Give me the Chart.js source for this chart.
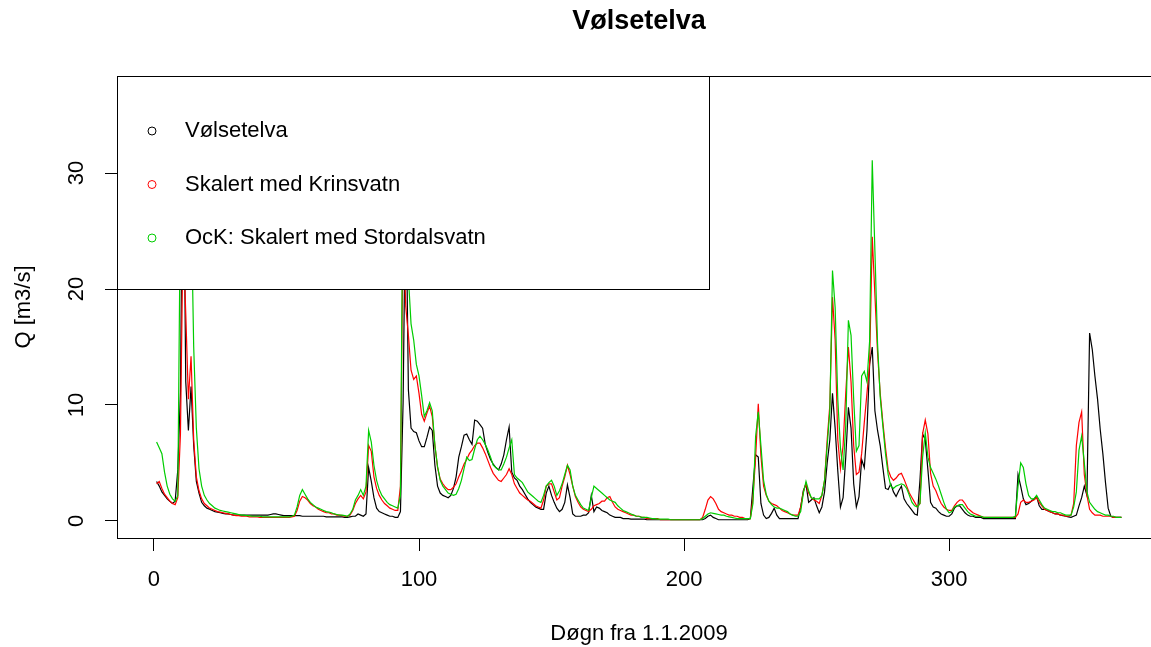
<!DOCTYPE html>
<html>
<head>
<meta charset="utf-8">
<title>Vølsetelva</title>
<script src="https://cdn.jsdelivr.net/npm/chart.js@4.4.1/dist/chart.umd.min.js"></script>
<style>
  html, body { margin: 0; padding: 0; background: #fff; overflow: hidden; }
  #wrap { width: 1278px; height: 647px; }
</style>
</head>
<body>
<div id="wrap"><canvas id="chart" width="1278" height="647"></canvas></div>
<script>
const FONT = '"Liberation Sans", Arial, sans-serif';

// day number from 1.1.2009
const days = Array.from({ length: 365 }, (_, i) => i + 1);

// daily discharge, m3/s
const qObserved = [
  3.4, 3.0, 2.5, 2.2, 1.9, 1.7, 1.5, 1.7, 4.4, 11.1,
  36.9, 12.0, 7.8, 11.6, 6.5, 3.4, 2.4, 1.6, 1.3, 1.1,
  1.0, 0.9, 0.8, 0.75, 0.7, 0.65, 0.6, 0.6, 0.55, 0.5,
  0.5, 0.5, 0.5, 0.5, 0.5, 0.5, 0.5, 0.5, 0.5, 0.5,
  0.5, 0.5, 0.5, 0.55, 0.6, 0.6, 0.55, 0.5, 0.45, 0.45,
  0.45, 0.45, 0.45, 0.45, 0.45, 0.4, 0.4, 0.4, 0.4, 0.4,
  0.4, 0.4, 0.4, 0.4, 0.35, 0.35, 0.35, 0.35, 0.35, 0.35,
  0.35, 0.3, 0.3, 0.35, 0.4, 0.4, 0.6, 0.5, 0.4, 0.6,
  4.6, 3.4, 2.0, 1.1, 0.8, 0.7, 0.6, 0.5, 0.4, 0.4,
  0.3, 0.3, 0.8, 10.2, 30.0, 11.3, 8.0, 7.7, 7.6, 6.9,
  6.4, 6.4, 7.2, 8.1, 7.8, 4.8, 3.0, 2.4, 2.2, 2.1,
  2.0, 2.2, 2.8, 3.8, 5.5, 6.4, 7.4, 7.5, 7.0, 6.6,
  8.7, 8.6, 8.3, 8.0, 6.6, 5.9, 5.3, 4.9, 4.6, 4.4,
  4.9, 5.7, 7.0, 8.1, 4.2, 3.7, 3.5, 3.0, 2.7, 2.3,
  1.9, 1.6, 1.4, 1.2, 1.1, 1.0, 1.0, 2.4, 3.0, 2.2,
  1.6, 1.1, 0.8, 1.0, 1.6, 3.1, 2.0, 0.6, 0.4, 0.4,
  0.4, 0.5, 0.5, 0.7, 2.2, 0.8, 1.2, 1.1, 0.9, 0.8,
  0.7, 0.5, 0.4, 0.3, 0.3, 0.3, 0.2, 0.2, 0.2, 0.15,
  0.15, 0.15, 0.15, 0.15, 0.15, 0.1, 0.1, 0.1, 0.1, 0.1,
  0.1, 0.1, 0.1, 0.1, 0.1, 0.1, 0.1, 0.1, 0.1, 0.1,
  0.1, 0.1, 0.1, 0.1, 0.1, 0.1, 0.1, 0.2, 0.4, 0.5,
  0.3, 0.2, 0.1, 0.1, 0.1, 0.1, 0.1, 0.1, 0.1, 0.1,
  0.1, 0.1, 0.1, 0.1, 0.2, 3.0, 5.7, 5.5, 1.5, 0.5,
  0.2, 0.3, 0.65, 1.1, 0.5, 0.2, 0.2, 0.2, 0.2, 0.2,
  0.2, 0.2, 0.2, 1.2, 2.6, 3.2, 1.6, 1.8, 2.0, 1.3,
  0.7, 1.2, 2.5, 5.0, 7.0, 11.0, 8.0, 4.3, 1.2, 2.0,
  5.5, 9.8, 8.0, 3.2, 1.2, 2.1, 5.3, 4.6, 7.8, 13.5,
  15.0, 9.5, 7.8, 6.5, 4.6, 2.8, 2.7, 3.2, 2.5, 2.1,
  2.6, 3.0, 1.9, 1.5, 1.2, 0.9, 0.6, 0.5, 3.5, 7.5,
  7.0, 4.4, 1.6, 1.2, 1.1, 0.8, 0.6, 0.5, 0.4, 0.4,
  0.6, 1.1, 1.3, 1.3, 1.0, 0.7, 0.5, 0.4, 0.4, 0.3,
  0.3, 0.3, 0.2, 0.2, 0.2, 0.2, 0.2, 0.2, 0.2, 0.2,
  0.2, 0.2, 0.2, 0.2, 0.2, 4.0, 3.0, 1.9, 1.4, 1.5,
  1.7, 1.9, 2.1, 1.3, 1.0, 1.0, 0.9, 0.8, 0.7, 0.6,
  0.6, 0.5, 0.45, 0.4, 0.35, 0.3, 0.4, 0.5, 1.3, 2.0,
  3.0, 2.2, 16.2, 14.8, 12.5, 10.5, 7.9, 5.8, 3.3, 1.1,
  0.4, 0.3, 0.3, 0.3, 0.3
];

const qKrinsvatn = [
  3.2, 3.4, 2.8, 2.3, 2.0, 1.7, 1.5, 1.4, 2.0, 7.5,
  25.0, 17.9, 10.5, 14.2, 7.0, 3.8, 2.6, 1.9, 1.5, 1.3,
  1.1, 1.0, 0.9, 0.8, 0.75, 0.7, 0.65, 0.6, 0.55, 0.5,
  0.45, 0.45, 0.4, 0.4, 0.4, 0.35, 0.35, 0.35, 0.35, 0.3,
  0.3, 0.3, 0.3, 0.3, 0.3, 0.3, 0.3, 0.3, 0.3, 0.3,
  0.3, 0.35, 0.4, 0.9, 1.7, 2.1, 2.0, 1.8, 1.5, 1.3,
  1.2, 1.0, 0.9, 0.8, 0.7, 0.7, 0.6, 0.6, 0.5, 0.5,
  0.45, 0.4, 0.4, 0.5, 0.9, 1.5, 1.9, 2.2, 1.9, 2.5,
  6.5, 6.0, 3.8, 2.8, 2.2, 1.8, 1.5, 1.3, 1.1, 1.0,
  0.9, 0.9, 3.0, 26.0, 18.5, 16.0, 13.0, 12.2, 12.5, 11.0,
  9.2, 8.6, 9.3, 9.9, 9.0, 6.5, 4.6, 3.6, 3.2, 2.9,
  2.7, 2.7, 2.9, 3.2, 3.8, 4.3, 4.9, 5.3, 5.8, 6.1,
  6.5, 6.7, 6.7, 6.3, 5.8, 5.2, 4.6, 4.1, 3.8, 3.5,
  3.4, 3.7, 4.0, 4.5, 4.0, 3.2, 2.8, 2.4, 2.2, 2.0,
  1.8, 1.7, 1.5, 1.3, 1.2, 1.1, 1.8, 3.0, 3.2, 3.2,
  2.5, 1.8, 2.0, 3.0, 3.8, 4.8, 4.0, 3.0, 2.1, 1.6,
  1.2, 1.0, 0.9, 0.8, 1.0, 1.3, 1.4, 1.5, 1.7, 1.7,
  2.0, 2.1, 1.6, 1.2, 1.0, 0.9, 0.8, 0.7, 0.6, 0.5,
  0.5, 0.4, 0.4, 0.3, 0.3, 0.2, 0.2, 0.2, 0.2, 0.2,
  0.1, 0.1, 0.1, 0.1, 0.1, 0.1, 0.1, 0.1, 0.1, 0.1,
  0.1, 0.1, 0.1, 0.1, 0.1, 0.1, 0.3, 1.0, 1.8, 2.1,
  1.9, 1.5, 1.0, 0.8, 0.7, 0.6, 0.5, 0.5, 0.4, 0.4,
  0.3, 0.3, 0.2, 0.2, 0.2, 2.0, 5.5, 10.1, 5.6, 3.0,
  2.2, 1.7, 1.5, 1.4, 1.3, 1.1, 0.9, 0.8, 0.7, 0.6,
  0.5, 0.5, 0.5, 1.2, 2.5, 3.2, 2.4, 2.0, 1.8, 1.7,
  1.5, 2.2, 3.5, 7.0, 10.0, 19.3, 15.6, 7.0, 4.5, 6.5,
  11.0, 15.0, 12.0, 6.5, 4.0, 4.2, 5.8, 8.5, 11.0, 13.5,
  24.5, 19.5, 14.5, 11.0, 8.5, 6.3, 4.4, 3.8, 3.5, 3.7,
  4.0, 4.1, 3.6, 3.0, 2.4, 2.0, 1.6, 1.2, 1.5, 7.5,
  8.7, 7.5, 4.1, 3.0, 2.6, 2.0, 1.5, 1.2, 1.0, 0.9,
  0.9, 1.3, 1.6, 1.8, 1.8, 1.5, 1.1, 0.9, 0.7, 0.6,
  0.5, 0.4, 0.3, 0.3, 0.3, 0.3, 0.3, 0.3, 0.3, 0.3,
  0.3, 0.3, 0.3, 0.3, 0.3, 0.6, 1.6, 1.8, 1.6, 1.6,
  1.7, 1.8, 2.0, 1.6, 1.3, 1.0, 0.9, 0.8, 0.7, 0.6,
  0.6, 0.5, 0.5, 0.4, 0.4, 0.5, 1.5, 6.5, 8.5, 9.4,
  4.0, 2.2, 1.0, 0.7, 0.5, 0.5, 0.5, 0.4, 0.4, 0.4,
  0.4, 0.3, 0.3, 0.3, 0.3
];

const qStordalsvatn = [
  6.8, 6.3, 5.8, 4.2, 3.0, 2.3, 1.9, 1.7, 2.2, 28.0,
  32.0, 26.0, 30.0, 28.0, 15.0, 8.0, 4.5, 3.0, 2.2, 1.8,
  1.5, 1.3, 1.1, 1.0, 0.9, 0.85, 0.8, 0.75, 0.7, 0.65,
  0.6, 0.55, 0.5, 0.5, 0.45, 0.45, 0.4, 0.4, 0.4, 0.4,
  0.35, 0.35, 0.35, 0.35, 0.35, 0.35, 0.35, 0.35, 0.35, 0.35,
  0.35, 0.4, 0.5, 1.2, 2.2, 2.7, 2.3, 1.9, 1.6, 1.4,
  1.2, 1.1, 1.0, 0.9, 0.8, 0.75, 0.7, 0.6, 0.55, 0.5,
  0.5, 0.45, 0.4, 0.6, 1.0, 1.8, 2.2, 2.7, 2.2, 3.0,
  7.8, 6.8, 4.8, 3.5, 2.7, 2.2, 1.9, 1.6, 1.4, 1.3,
  1.2, 1.1, 2.2, 32.0, 26.0, 21.0, 17.0, 15.6, 13.5, 12.5,
  10.8, 9.0, 9.5, 10.2, 9.5, 6.5, 4.7, 3.5, 3.0, 2.7,
  2.4, 2.3, 2.2, 2.3, 2.8, 3.5, 4.5, 5.5, 5.2, 5.3,
  6.2, 7.0, 7.3, 7.0, 6.6, 6.1, 5.5, 4.8, 4.6, 4.4,
  4.4, 4.9, 5.5, 6.3, 7.0, 4.0, 3.7, 3.5, 3.3, 2.9,
  2.5, 2.3, 2.1, 1.9, 1.7, 1.6, 2.2, 3.0, 3.3, 3.5,
  3.0, 2.2, 2.6, 3.2, 4.0, 4.8, 4.4, 3.0, 2.2, 1.8,
  1.4, 1.1, 1.0, 0.9, 2.0, 3.0, 2.8, 2.6, 2.4, 2.2,
  2.0, 1.8, 1.7, 1.6, 1.3, 1.1, 0.9, 0.8, 0.7, 0.6,
  0.5, 0.4, 0.4, 0.3, 0.3, 0.3, 0.25, 0.2, 0.2, 0.15,
  0.15, 0.15, 0.15, 0.15, 0.1, 0.1, 0.1, 0.1, 0.1, 0.1,
  0.1, 0.1, 0.1, 0.1, 0.1, 0.1, 0.2, 0.4, 0.6, 0.7,
  0.65, 0.6, 0.55, 0.5, 0.5, 0.4, 0.35, 0.3, 0.25, 0.2,
  0.2, 0.2, 0.2, 0.2, 0.2, 1.5, 7.3, 9.4, 6.5, 3.5,
  2.3, 1.7, 1.4, 1.2, 1.1, 1.1, 1.0, 0.9, 0.8, 0.6,
  0.5, 0.4, 0.4, 0.8, 2.4, 3.4, 2.6, 2.0, 1.9, 1.9,
  1.9, 2.2, 3.5, 6.5, 9.5, 21.6, 18.4, 10.5, 6.3, 4.4,
  8.2, 17.3, 16.0, 10.5, 6.0, 6.5, 12.5, 12.9, 12.0, 15.5,
  31.1, 23.3, 15.3, 10.7, 8.2, 5.8, 4.0, 3.0, 2.8, 3.0,
  3.1, 3.2, 3.1, 2.8, 2.2, 1.6, 1.3, 1.2, 1.5, 5.5,
  7.6, 5.5, 4.6, 4.1, 3.6, 3.0, 2.3, 1.6, 1.0, 0.7,
  0.8, 1.2, 1.3, 1.4, 1.4, 1.1, 0.8, 0.6, 0.5, 0.4,
  0.4, 0.4, 0.3, 0.3, 0.3, 0.3, 0.3, 0.3, 0.3, 0.3,
  0.3, 0.3, 0.3, 0.3, 0.4, 3.0, 5.0, 4.6, 3.2, 2.2,
  1.9, 1.9, 2.2, 1.8, 1.4, 1.1, 1.0, 0.9, 0.8, 0.8,
  0.7, 0.7, 0.6, 0.5, 0.5, 0.5, 1.2, 2.5, 6.1, 7.3,
  5.0, 2.5, 1.6, 1.3, 1.0, 0.8, 0.7, 0.6, 0.5, 0.5,
  0.4, 0.4, 0.3, 0.3, 0.3
];

const xTicks = [0, 100, 200, 300];
const yTicks = [0, 10, 20, 30];
const seriesNames = ["Vølsetelva", "Skalert med Krinsvatn", "OcK: Skalert med Stordalsvatn"];
const seriesColors = ["#000000", "#ff0000", "#00cd00"];
const seriesValues = [qObserved, qKrinsvatn, qStordalsvatn];

// axis limits padded 4% on each side, like base R graphics
const pad = (lo, hi) => { const d = (hi - lo) * 0.04; return [lo - d, hi + d]; };
const [xMin, xMax] = pad(days[0], days[days.length - 1]);
const [yMin, yMax] = pad(0, Math.max(...qObserved));

// frame, rotated y labels and the boxed legend in the top-left corner
const frame = {
  id: "frame",
  afterDatasetsDraw(chart) {
    const { ctx, chartArea: a, scales: { y } } = chart;
    ctx.save();
    ctx.font = `22px ${FONT}`;
    ctx.fillStyle = "#000";

    for (const v of yTicks) {
      ctx.save();
      ctx.translate(77, y.getPixelForValue(v));
      ctx.rotate(-Math.PI / 2);
      ctx.textAlign = "center";
      ctx.textBaseline = "middle";
      ctx.fillText(String(v), 0, 0);
      ctx.restore();
    }

    const lw = 592, lh = 213;
    ctx.fillStyle = "#fff";
    ctx.fillRect(a.left, a.top, lw, lh);
    ctx.strokeStyle = "#000";
    ctx.lineWidth = 1;
    ctx.strokeRect(a.left - 0.5, a.top + 0.5, lw, lh);

    ctx.textAlign = "left";
    ctx.textBaseline = "middle";
    seriesNames.forEach((name, i) => {
      const cy = a.top + 55 + i * 53.5;
      ctx.beginPath();
      ctx.arc(a.left + 34, cy, 4, 0, Math.PI * 2);
      ctx.strokeStyle = seriesColors[i];
      ctx.stroke();
      ctx.fillStyle = "#000";
      ctx.fillText(name, a.left + 67, cy);
    });

    ctx.strokeStyle = "#000";
    ctx.strokeRect(a.left - 0.5, a.top + 0.5, a.right - a.left + 1, a.bottom - a.top);
    ctx.restore();
  }
};

new Chart(document.getElementById("chart"), {
  type: "line",
  data: {
    datasets: seriesValues.map((vals, i) => ({
      label: seriesNames[i],
      data: days.map((d, j) => ({ x: d, y: vals[j] })),
      borderColor: seriesColors[i],
      borderWidth: 1.2,
      pointRadius: 0,
      tension: 0,
      fill: false,
      order: 2 - i,
    })),
  },
  options: {
    responsive: false,
    animation: false,
    devicePixelRatio: 1,
    events: [],
    plugins: {
      legend: { display: false },
      tooltip: { enabled: false },
      title: {
        display: true,
        text: "Vølsetelva",
        color: "#000",
        font: { family: FONT, size: 27, weight: "bold" },
        padding: { top: 5.8, bottom: 37.8 },
      },
    },
    scales: {
      x: {
        type: "linear",
        min: xMin,
        max: xMax,
        afterBuildTicks: s => { s.ticks = xTicks.map(v => ({ value: v })); },
        afterFit: s => { s.height = 109; },
        grid: { drawOnChartArea: false, drawTicks: true, tickLength: 13, tickColor: "#000", tickWidth: 1 },
        border: { display: false },
        ticks: { color: "#000", font: { family: FONT, size: 22 }, padding: 16, maxRotation: 0, autoSkip: false },
        title: {
          display: true,
          text: "Døgn fra 1.1.2009",
          color: "#000",
          font: { family: FONT, size: 22 },
          padding: { top: 0, bottom: 0 },
        },
      },
      y: {
        type: "linear",
        min: yMin,
        max: yMax,
        afterBuildTicks: s => { s.ticks = yTicks.map(v => ({ value: v })); },
        afterFit: s => { s.width = 118; },
        grid: { drawOnChartArea: false, drawTicks: true, tickLength: 13, tickColor: "#000", tickWidth: 1 },
        border: { display: false },
        ticks: { display: false },
        title: {
          display: true,
          text: "Q [m3/s]",
          color: "#000",
          font: { family: FONT, size: 22 },
          padding: { top: 11, bottom: 0 },
        },
      },
      // empty right margin so the title centres over the plot region
      margin: {
        type: "linear",
        position: "right",
        afterFit: s => { s.width = 118; },
        grid: { display: false },
        border: { display: false },
        ticks: { display: false },
      },
    },
  },
  plugins: [frame],
});
</script>
</body>
</html>
